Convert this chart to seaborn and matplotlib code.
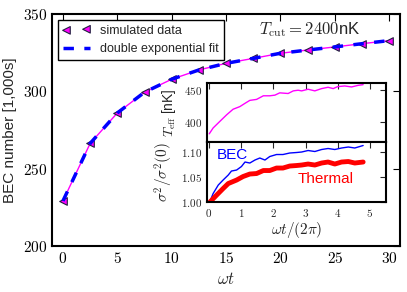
import matplotlib
matplotlib.use("Agg")
import matplotlib.pyplot as plt
import seaborn as sns
from matplotlib.ticker import FuncFormatter, MultipleLocator

# main panel: BEC number vs omega t
wt = [0, 2.5, 5, 7.5, 10, 12.5, 15, 17.5, 20, 22.5, 25, 27.5, 30]
bec_n = [229.1, 266.3, 286.0, 299.4, 307.8, 313.8, 318.1, 321.3, 324.6, 326.7, 328.7, 330.8, 332.8]

# inset top: effective temperature
t_teff = [0.01, 0.13, 0.34, 0.55, 0.75, 0.96, 1.12, 1.27, 1.48, 1.69, 1.89, 2.05, 2.2, 2.46,
          2.62, 2.77, 2.88, 3.08, 3.29, 3.5, 3.7, 3.86, 4.0, 4.22, 4.43, 4.64, 4.79]
teff = [382.5, 391.4, 401.5, 411.5, 420, 424, 429, 433.5, 435, 440.5, 440.5, 441.5, 445, 444,
        448, 449, 448, 450.5, 448, 451.5, 453.5, 451.5, 454.5, 455.5, 454, 456.5, 457.5]

# inset bottom: width ratios
t_bec = [0.03, 0.13, 0.29, 0.44, 0.6, 0.7, 0.86, 1.01, 1.12, 1.27, 1.43, 1.58, 1.74, 1.89,
         2.1, 2.3, 2.51, 2.72, 2.88, 3.08, 3.29, 3.5, 3.7, 3.91, 4.12, 4.33, 4.53, 4.79]
sig_bec = [1.001, 1.017, 1.034, 1.044, 1.054, 1.062, 1.064, 1.071, 1.080, 1.078, 1.084, 1.088,
           1.084, 1.091, 1.095, 1.095, 1.098, 1.099, 1.100, 1.103, 1.101, 1.105, 1.107, 1.105,
           1.108, 1.110, 1.108, 1.113]
t_th = [0.03, 0.24, 0.44, 0.6, 0.86, 1.06, 1.27, 1.48, 1.69, 1.89, 2.1, 2.3, 2.51, 2.72,
        2.88, 3.08, 3.29, 3.5, 3.7, 3.91, 4.12, 4.33, 4.53, 4.79]
sig_th = [1.0, 1.014, 1.027, 1.037, 1.044, 1.051, 1.056, 1.057, 1.063, 1.063, 1.068, 1.068,
          1.072, 1.073, 1.074, 1.076, 1.074, 1.078, 1.080, 1.076, 1.080, 1.081, 1.078, 1.080]

sns.set_style("white")
plt.rcParams['font.family'] = ['Liberation Sans', 'DejaVu Sans']
plt.rcParams['mathtext.fontset'] = 'cm'
plt.rcParams['xtick.direction'] = 'in'
plt.rcParams['ytick.direction'] = 'in'
plt.rcParams['xtick.top'] = True
plt.rcParams['ytick.right'] = True
plt.rcParams['axes.edgecolor'] = 'black'
plt.rcParams['axes.linewidth'] = 1.5

mint = FuncFormatter(lambda v, p: '$%d$' % v)

fig = plt.figure(figsize=(4.07, 2.92), dpi=100)
ax = fig.add_axes([0.128, 0.158, 0.855, 0.794])

sns.lineplot(x=wt, y=bec_n, ax=ax, color='magenta', lw=1, zorder=2)
sns.scatterplot(x=wt, y=bec_n, ax=ax, marker='<', s=30, color='magenta', edgecolor='#202040',
                linewidth=0.8, label='simulated data', zorder=3)
sns.lineplot(x=wt, y=bec_n, ax=ax, color='blue', lw=2.5, linestyle=(0, (3, 3)),
             label='double exponential fit', zorder=4)

ax.set_xlim(-1, 31)
ax.set_ylim(200, 350)
ax.xaxis.set_major_locator(MultipleLocator(5))
ax.yaxis.set_major_locator(MultipleLocator(50))
ax.xaxis.set_major_formatter(mint)
ax.yaxis.set_major_formatter(mint)
ax.tick_params(labelsize=11, length=5, width=0.8, colors='black')
ax.set_xlabel(r'$\omega t$', fontsize=12)
ax.set_ylabel('BEC number [1,000s]', fontsize=11)
ax.legend(loc='upper left', scatterpoints=2, fontsize=9, fancybox=False, edgecolor='black',
          framealpha=1, handlelength=2.2, borderaxespad=0.45)
ax.text(18.0, 340, r'$T_{\rm cut} = 2400$nK', fontsize=12, ha='left', va='center')

# top inset
ax1 = fig.add_axes([0.5086, 0.5137, 0.4398, 0.202])
sns.lineplot(x=t_teff, y=teff, ax=ax1, color='magenta', lw=1)
ax1.set_xlim(-0.06, 5.5)
ax1.set_ylim(370, 460)
ax1.xaxis.set_major_locator(MultipleLocator(1))
ax1.yaxis.set_major_locator(MultipleLocator(50))
ax1.yaxis.set_major_formatter(mint)
ax1.tick_params(labelsize=8, length=4, width=0.8, labelbottom=False)
ax1.set_ylabel(r'$T_{\rm eff}$ [nK]', fontsize=10)

# bottom inset
ax2 = fig.add_axes([0.5086, 0.308, 0.4398, 0.2057])
sns.lineplot(x=t_bec, y=sig_bec, ax=ax2, color='blue', lw=1)
sns.lineplot(x=t_th, y=sig_th, ax=ax2, color='red', lw=3.5)
ax2.set_xlim(-0.06, 5.5)
ax2.set_ylim(1.0, 1.12)
ax2.xaxis.set_major_locator(MultipleLocator(1))
ax2.yaxis.set_major_locator(MultipleLocator(0.05))
ax2.xaxis.set_major_formatter(mint)
ax2.yaxis.set_major_formatter(FuncFormatter(lambda v, p: '$%.2f$' % v))
ax2.tick_params(labelsize=8, length=4, width=0.8)
ax2.set_xlabel(r'$\omega t/(2\pi)$', fontsize=11, labelpad=1)
ax2.set_ylabel(r'$\sigma^2/\sigma^2(0)$', fontsize=11)
ax2.text(0.25, 1.094, 'BEC', color='blue', fontsize=11, ha='left', va='center')
ax2.text(2.76, 1.046, 'Thermal', color='red', fontsize=11, ha='left', va='center')

fig.savefig('out.png', dpi=100)
